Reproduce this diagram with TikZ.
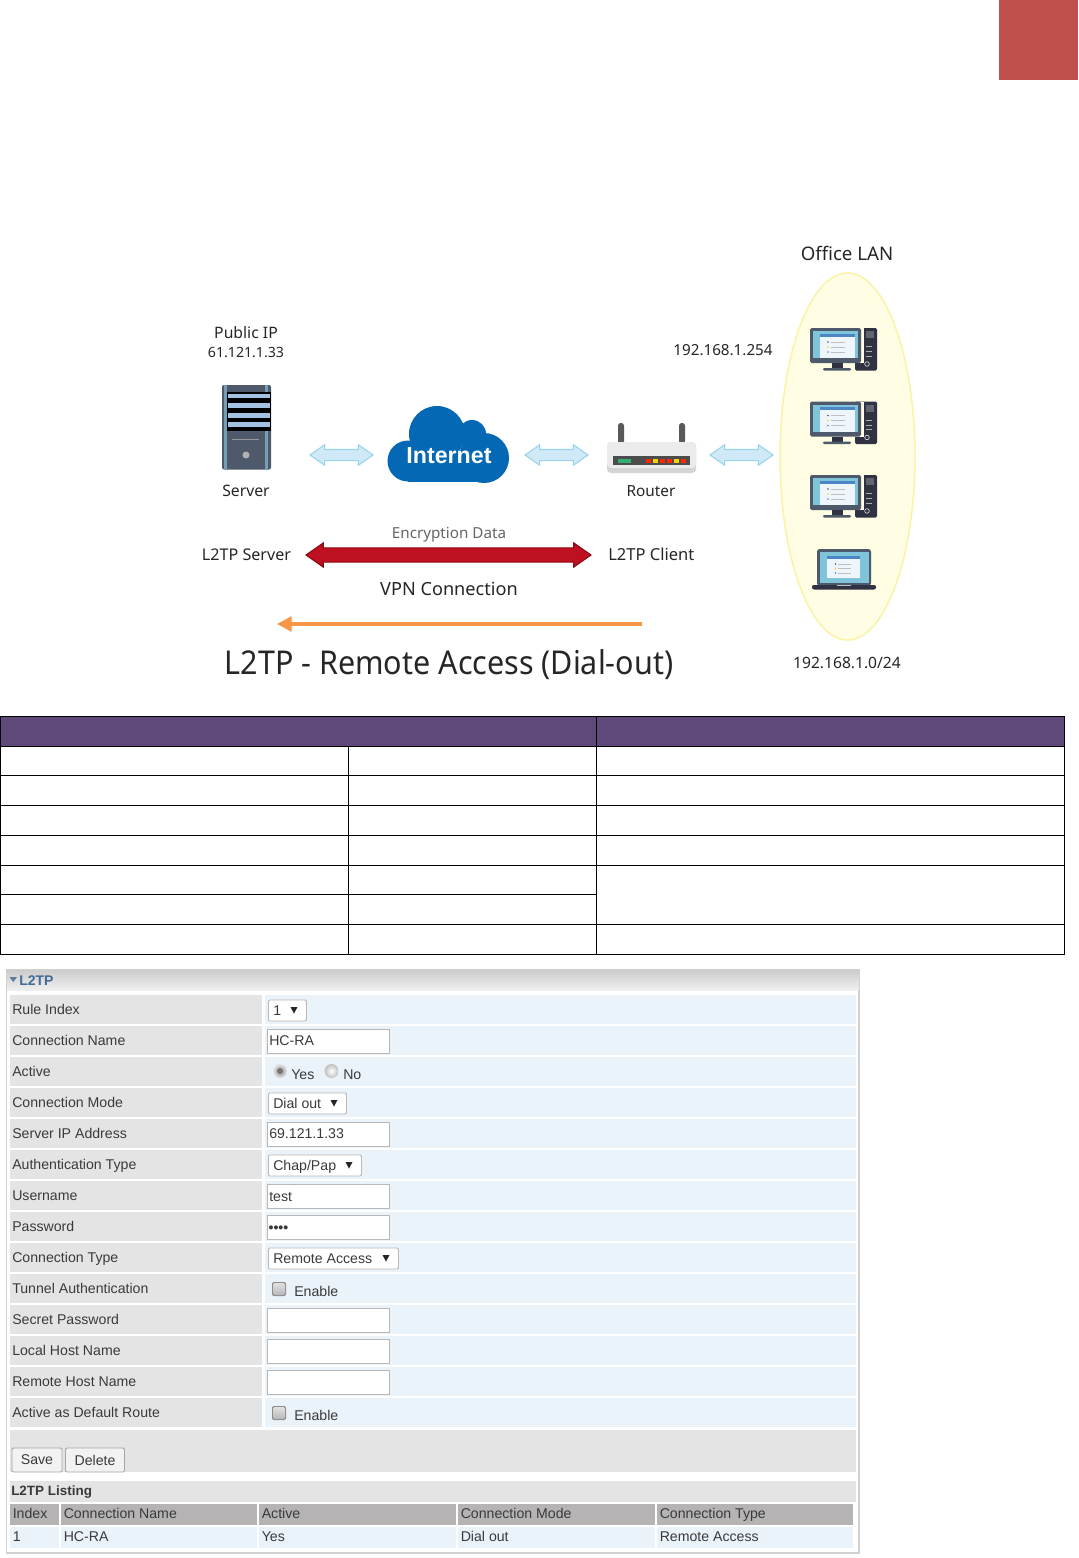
\documentclass[tikz,border=0pt]{standalone}
\usepackage{fontspec}
\setmainfont{Noto Sans}
\newfontfamily\formfont{Liberation Sans}
\newfontfamily\titlefont[FakeStretch=0.93]{Noto Sans}
\usetikzlibrary{shapes.arrows,shapes.geometric,arrows.meta}
\definecolor{accentred}{HTML}{C0504D}
\definecolor{headpurple}{HTML}{5F497A}
\definecolor{lanfill}{HTML}{FFFDE3}
\definecolor{lanline}{HTML}{FAF3A6}
\definecolor{framec}{HTML}{4E5A6B}
\definecolor{screenc}{HTML}{7FC4D9}
\definecolor{pagec}{HTML}{EEF6FC}
\definecolor{barc}{HTML}{4D86C6}
\definecolor{towerc}{HTML}{2E3242}
\definecolor{cloudc}{HTML}{0468B4}
\definecolor{lblue}{HTML}{CFE9F7}
\definecolor{lblueline}{HTML}{9AD3EE}
\definecolor{vpnred}{HTML}{BF1021}
\definecolor{vpndark}{HTML}{8B0A14}
\definecolor{orangec}{HTML}{F79646}
\definecolor{cellgrey}{HTML}{E4E4E4}
\definecolor{cellblue}{HTML}{EAF2FA}
\definecolor{listgrey}{HTML}{B5B3B3}
\definecolor{formtext}{HTML}{3A3A3A}
\definecolor{inputline}{HTML}{B8B8B8}
\definecolor{rackblue}{HTML}{A3C2E2}
\tikzset{
  x=0.75pt,y=-0.75pt,
  lab/.style={inner sep=0,text=black!85,font=\fontsize{11.8}{14}\selectfont},
  flab/.style={inner sep=0,anchor=base west,yshift=-3.7pt,text=formtext,font=\formfont\fontsize{10.6}{13}\selectfont},
  linkarrow/.style={double arrow,draw=lblueline,fill=lblue,line width=0.8pt,inner xsep=0,inner ysep=3.75pt,
     minimum height=63*0.75pt,double arrow head extend=3.5pt,double arrow tip angle=70},
  inbox/.style={draw=inputline,fill=white,line width=0.7pt,inner sep=0,anchor=west,
     minimum width=122*0.75pt,minimum height=24*0.75pt},
  selbox/.style={draw=inputline,fill=white,line width=0.7pt,inner sep=0,anchor=west,
     rounded corners=1pt,minimum height=21*0.75pt},
  tline/.style={draw=black,line width=0.75pt},
  fbutton/.style={draw=black!35,fill=black!5,line width=0.7pt,rounded corners=1pt,inner sep=0,text=formtext,
     minimum height=24*0.75pt,font=\formfont\fontsize{10.6}{13}\selectfont},
}
\newcommand{\pcicon}[2]{%
\begin{scope}[shift={(#1,#2)}]
  \fill[towerc,rounded corners=1pt] (45,0) rectangle (67,42.5);
  \fill[towerc!75!white] (55.5,3) rectangle (64,10);
  \foreach \ly in {18.5,23.5,28} \draw[white!60!towerc,line width=0.5pt] (55.5,\ly) -- (62,\ly);
  \draw[white!80!towerc,line width=0.5pt] (57,36) circle (2.3);
  \fill[lanfill] (45,0) rectangle (54,35);
  \fill[framec,rounded corners=1.2pt] (0,0) rectangle (51,35);
  \fill[screenc] (3,3) rectangle (48,30);
  \fill[pagec] (10,5.5) rectangle (45,30);
  \fill[barc] (10,5.5) rectangle (45,8.5);
  \foreach \ly/\lc in {14/framec,19/yellow!70!orange,24/barc} {
    \fill[\lc] (18,\ly) circle (0.9);
    \draw[black!25,line width=0.3pt] (21,\ly) -- (35,\ly);
  }
  \fill[towerc] (22,35) rectangle (33,40);
  \fill[framec,rounded corners=0.8pt] (13,40) rectangle (41,42.5);
\end{scope}}
\newcommand{\selectbox}[4]{% name, y, width, text
  \node[selbox,minimum width=#3*0.75pt] (#1) at (268,#2) {};
  \node[flab] (#1t) at (273,#2) {#4};
  \fill[black!85] ({268+#3-12-3.5},{#2-3.5}) -- ({268+#3-12+3.5},{#2-3.5}) -- ({268+#3-12},{#2+3}) -- cycle;
}
\newcommand{\inputbox}[3]{%
  \node[inbox] (#1) at (267,#2) {};
  \node[flab] (#1t) at (269,#2) {#3};
}
\newcommand{\checkmk}[2]{%
  \fill[black!45,rounded corners=1.5pt] (272,{#2-10}) rectangle (286,{#2+4});
  \shade[top color=black!12,bottom color=black!28,rounded corners=1.5pt] (273,{#2-9}) rectangle (285,{#2+3});
  \node[flab] (#1) at (294,#2) {Enable};
}
\begin{document}
\begin{tikzpicture}
\useasboundingbox (0,0) rectangle (1078,1558);
\fill[white] (0,0) rectangle (1078,1558);
\fill[accentred] (999,0) rectangle (1078,80);

% --- LAN ellipse
\node[draw=lanline,fill=lanfill,line width=1.1pt,ellipse,inner sep=0,
  minimum width=135*0.75pt,minimum height=367*0.75pt] (lan) at (847.5,456.5) {};
\pcicon{810}{328}
\pcicon{810}{401.5}
\pcicon{810}{475}
% laptop
\fill[framec,rounded corners=2pt] (817,549) rectangle (871,586);
\fill[screenc] (819.5,552) rectangle (868.5,583);
\fill[pagec] (827,556) rectangle (860,578);
\fill[barc] (827,556) rectangle (860,558.5);
\foreach \ly/\lc in {564/framec,568.5/yellow!70!orange,573/barc} {
  \fill[\lc] (835.5,\ly) circle (0.9);
  \draw[black!25,line width=0.3pt] (838,\ly) -- (851,\ly);
}
\fill[towerc,rounded corners=1.5pt] (812,585) rectangle (876,589.5);
\fill[black!25] (837,585) rectangle (851,586.2);

% --- server
\fill[framec,rounded corners=1.5pt] (222,385) rectangle (271,469.5);
\fill[black!25!lblueline] (224,385) rectangle (226.5,469.5);
\fill[black!25!lblueline] (265,385) rectangle (267.5,469.5);
\fill[black] (227,391.5) rectangle (270.5,431);
\foreach \ya/\yb in {393.5/398,403/408,412.5/418,422/427}
  \fill[rackblue] (228,\ya) rectangle (270,\yb);
\draw[black!40,line width=0.6pt] (232,439) -- (259,439);
\fill[black!30] (246,455) circle (3.5);

% --- cloud
\fill[cloudc] (408,461) circle (20.5);
\fill[cloudc] (437,434) circle (28);
\fill[cloudc] (472,434) circle (14);
\fill[cloudc] (484,458) circle (25);
\fill[cloudc] (408,450) rectangle (484,482);
\node[inner sep=0,text=white,font=\formfont\fontsize{17.4}{20}\selectfont\bfseries] (inet) at (449,456) {Internet};

% --- router
\fill[black!65,rounded corners=2pt] (618,423) rectangle (624,444);
\fill[black!65,rounded corners=2pt] (679,423) rectangle (685,444);
\fill[black!17,rounded corners=3pt] (607,442) rectangle (696,473);
\fill[black!8,rounded corners=3pt] (607,442) rectangle (696,468);
\fill[black!70] (613,456) rectangle (690,465);
\fill[green!50!cyan!60!black!80] (618,459) rectangle (631,462.5);
\foreach \lx/\lc in {646/red!70!orange,653/yellow!70!orange,660/red!70!orange,667/red!70!orange,674/yellow!70!orange,681/red!70!orange}
  \fill[\lc] (\lx,458.7) rectangle ({\lx+4.5},462.8);

% --- light link arrows
\node[linkarrow] (la1) at (341.5,455) {};
\node[linkarrow] (la2) at (556.5,455) {};
\node[linkarrow] (la3) at (741.5,455) {};

% --- labels
\node[lab] (pubip) at (246,332.7) {Public IP};
\node[lab,font=\fontsize{10.6}{13}\selectfont] (pubaddr) at (246,352.5) {61.121.1.33};
\node[lab] (srv) at (246,491) {Server};
\node[lab,font=\fontsize{14}{16}\selectfont] (office) at (847,253.5) {Office LAN};
\node[lab,font=\fontsize{11.4}{14}\selectfont] (gw) at (723,350.5) {192.168.1.254};
\node[lab,font=\fontsize{11.5}{14}\selectfont] (rtr) at (651,491) {Router};
\node[lab,text=black!60,font=\fontsize{11.4}{14}\selectfont] (enc) at (449,534.5) {Encryption Data};
\node[lab,font=\fontsize{12.1}{14}\selectfont] (l2s) at (246.5,554.7) {L2TP Server};
\node[lab,font=\fontsize{12.4}{14}\selectfont] (l2c) at (651.3,554) {L2TP Client};
\node[lab,font=\fontsize{13.6}{16}\selectfont] (vpn) at (449,588.5) {VPN Connection};
\node[lab,font=\fontsize{11.7}{14}\selectfont] (subnet) at (847,662.5) {192.168.1.0/24};
\node[lab,font=\titlefont\fontsize{24.6}{28}\selectfont] (title) at (449,664.5) {L2TP - Remote Access (Dial-out)};

% --- red VPN arrow
\node[double arrow,draw=vpndark,fill=vpnred,line width=0.8pt,inner xsep=0,inner ysep=4.9pt,
  minimum height=285*0.75pt,double arrow head extend=3.75pt,
  double arrow tip angle=70] (vpnarrow) at (448.5,555) {};

% --- orange dial-out arrow
\coordinate (dialA) at (642,624);
\coordinate (dialB) at (277,624);
\draw[orangec,line width=3.4pt,-{Triangle[length=11pt,width=11pt]}] (dialA) -- (dialB);

% --- empty table
\fill[headpurple] (0,716) rectangle (1064.5,746);
\foreach \ry in {716,746,775.5,805.5,835.5,865,924,954}
  \draw[tline] (0,\ry) -- (1064.5,\ry);
\draw[tline] (0,894.5) -- (596.5,894.5);
\draw[tline] (348,746) -- (348,954);
\draw[tline] (596.5,716) -- (596.5,954);
\draw[tline] (1064.5,716) -- (1064.5,954);
\draw[tline] (0,716) -- (0,954);

% --- L2TP form panel
\draw[draw=black!18,line width=0.8pt,fill=white] (6.5,969.5) rectangle (859,1553);
\shade[top color=black!20,bottom color=black!6] (7,970) rectangle (858.5,990.5);
\fill[cyan!50!blue!60!black!80] (9.5,977) -- (17,977) -- (13.25,982) -- cycle;
\node[flab,font=\formfont\fontsize{10.5}{13}\selectfont\bfseries,text=cyan!60!blue!65!black] (ftitle) at (19,981) {L2TP};

\foreach \k/\t in {0/Rule Index,1/Connection Name,2/Active,3/Connection Mode,4/Server IP Address,
  5/Authentication Type,6/Username,7/Password,8/Connection Type,9/Tunnel Authentication,
  10/Secret Password,11/Local Host Name,12/Remote Host Name,13/Active as Default Route} {
  \fill[cellgrey] (10,{995+31*\k}) rectangle (262,{1024+31*\k});
  \fill[cellblue] (265,{995+31*\k}) rectangle (856,{1024+31*\k});
  \node[flab] (row\k) at (12,{1010+31*\k}) {\t};
}
\selectbox{sRule}{1010.5}{38}{1}
\inputbox{iName}{1041}{HC-RA}
% radio buttons
\shade[inner color=black!45,outer color=black!10] (280,1071) circle (7);
\fill[black!55] (280,1071) circle (3);
\node[flab] (yes) at (291,1075) {Yes};
\shade[inner color=white,outer color=black!25] (331.5,1071) circle (7);
\node[flab] (no) at (343,1075) {No};
\selectbox{sMode}{1103.5}{78}{Dial out}
\inputbox{iServer}{1134}{69.121.1.33}
\selectbox{sAuth}{1165.5}{93}{Chap/Pap}
\inputbox{iUser}{1196.5}{test}
\inputbox{iPass}{1227.5}{\fontsize{10.5}{12}\selectfont\bfseries\kern-0.5pt••••}
\selectbox{sType}{1258.5}{130}{Remote Access}
\checkmk{enA}{1292}
\inputbox{iSecret}{1320.5}{}
\inputbox{iLocal}{1351.5}{}
\inputbox{iRemote}{1382.5}{}
\checkmk{enB}{1416}

% action buttons
\fill[cellgrey] (10,1430) rectangle (856,1472);
\node[fbutton,minimum width=50*0.75pt] (save) at (37,1460) {Save};
\node[fbutton,minimum width=59*0.75pt] (del) at (95,1460) {Delete};

% listing
\fill[cellgrey] (10,1481) rectangle (856,1502);
\node[flab,font=\formfont\fontsize{10.1}{13}\selectfont\bfseries] (listt) at (11,1491) {L2TP Listing};
\foreach \n/\xa/\xb/\h/\v in {a/10/59/Index/1,b/61/257/Connection Name/HC-RA,c/259/456/Active/Yes,
  d/458/655/Connection Mode/Dial out,e/657/853/Connection Type/Remote Access} {
  \fill[listgrey] (\xa,1503.5) rectangle (\xb,1525);
  \fill[cellblue] (\xa,1527) rectangle (\xb,1548);
  \node[flab] (h\n) at ({\xa+2.5},1514) {\h};
  \node[flab] (v\n) at ({\xa+2.5},1537) {\v};
}
\end{tikzpicture}
\end{document}
